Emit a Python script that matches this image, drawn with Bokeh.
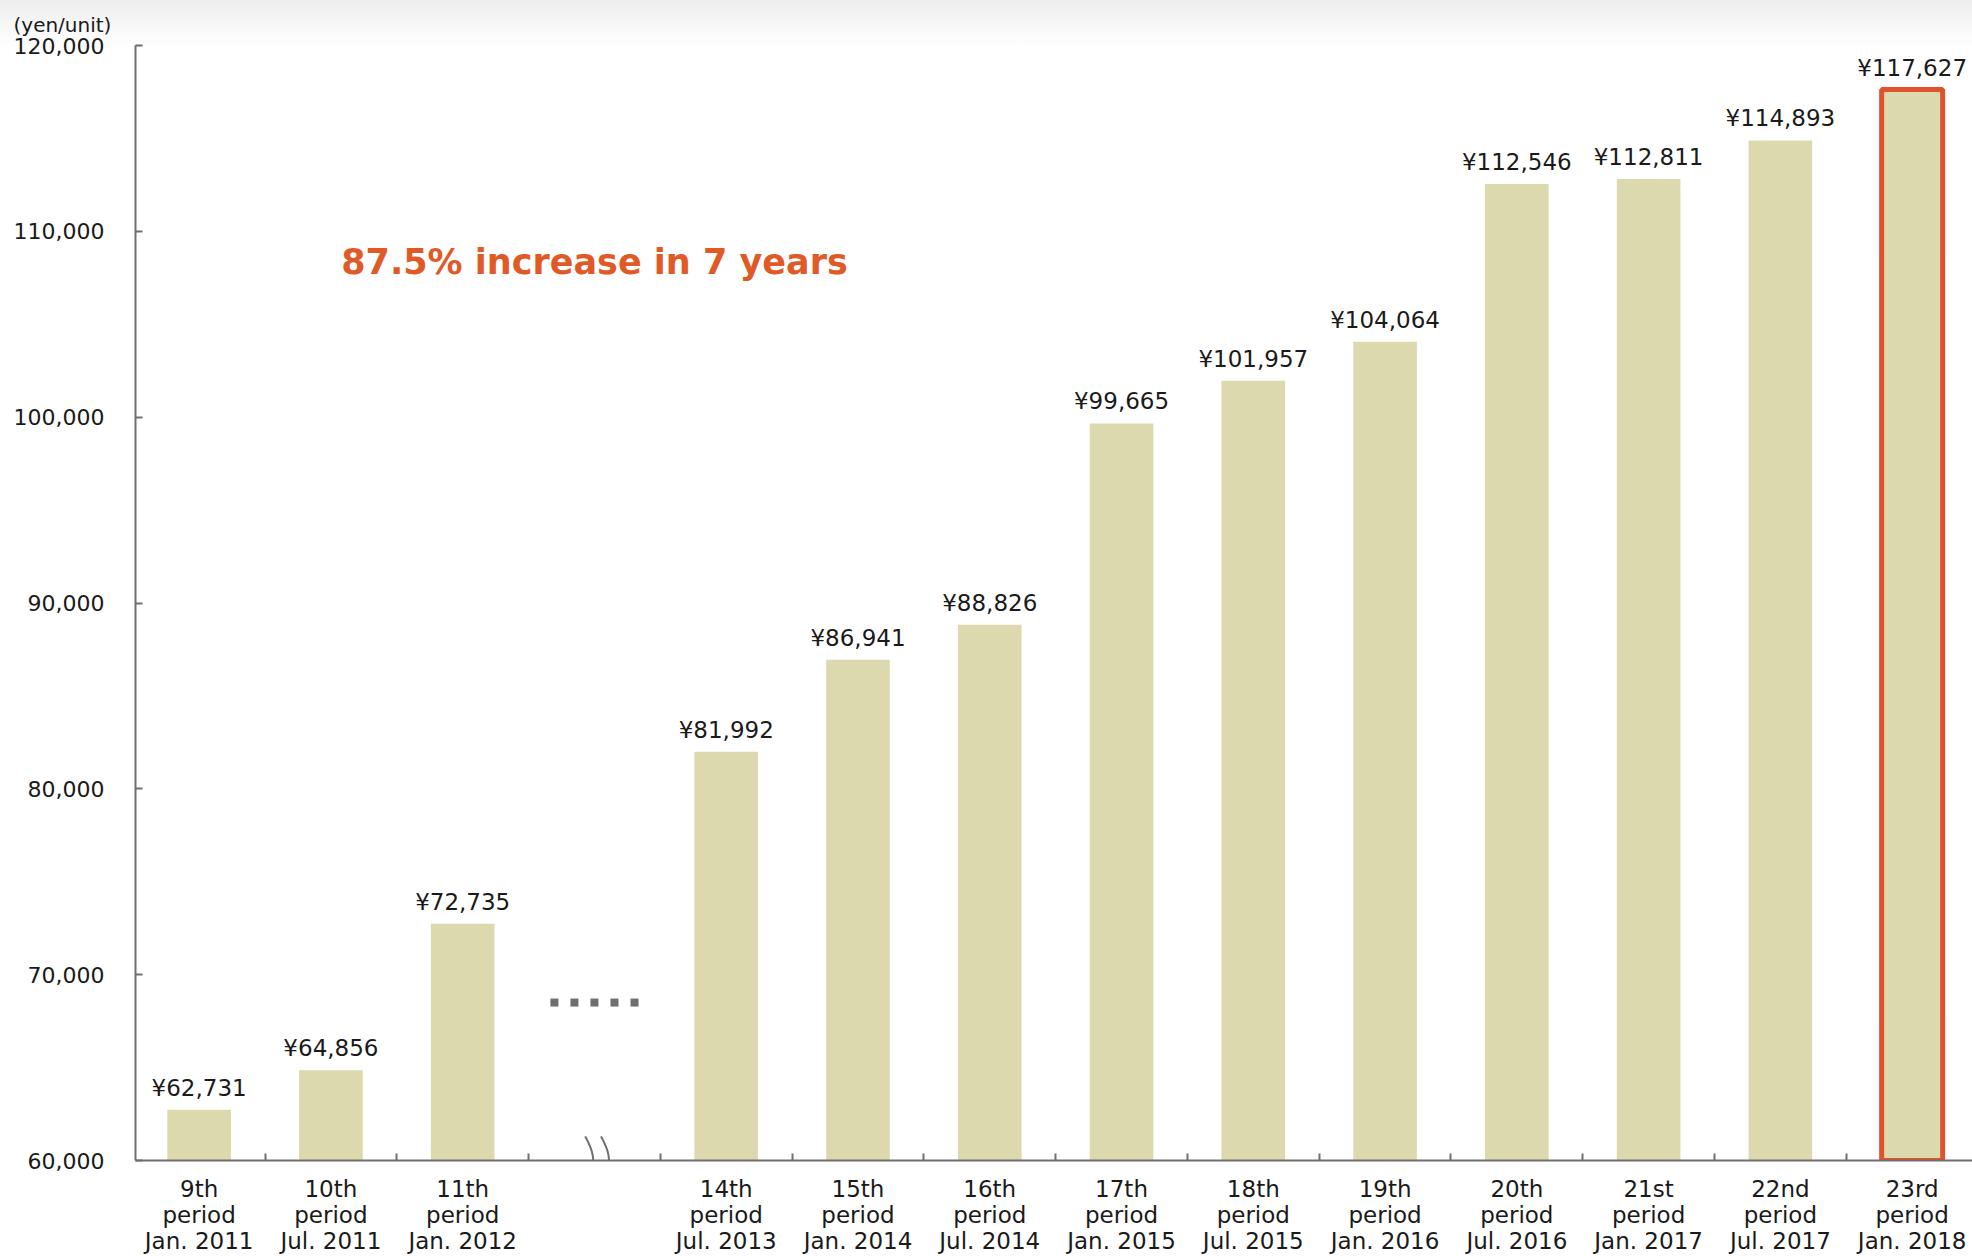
from bokeh.plotting import figure
from bokeh.models import (Range1d, FixedTicker, NumeralTickFormatter, Label,
                          ColumnDataSource)
from bokeh.embed import file_html
from bokeh.resources import INLINE
from bokeh.core.properties import value
import math

# ---------------- data ----------------
period_names = ["9th", "10th", "11th", "14th", "15th", "16th", "17th", "18th",
                "19th", "20th", "21st", "22nd", "23rd"]
period_dates = ["Jan. 2011", "Jul. 2011", "Jan. 2012", "Jul. 2013", "Jan. 2014",
                "Jul. 2014", "Jan. 2015", "Jul. 2015", "Jan. 2016", "Jul. 2016",
                "Jan. 2017", "Jul. 2017", "Jan. 2018"]
prices = [62731, 64856, 72735, 81992, 86941, 88826, 99665, 101957, 104064,
          112546, 112811, 114893, 117627]
y_ticks = [60000, 70000, 80000, 90000, 100000, 110000, 120000]
gap_after = 3            # an omitted-period slot follows the 3rd bar
headline = "87.5% increase in 7 years"
unit_label = "(yen/unit)"

# ---------------- style ----------------
FONT = "DejaVu Sans"
BAR = "#DCD9AE"
RED = "#E0522B"
AXIS = "#6F6F6F"
TXT = "#1A1A1A"

xs = [i + (1 if i >= gap_after else 0) for i in range(len(prices))]
gap_x = gap_after
n_slots = len(prices) + 1

src = ColumnDataSource(dict(
    x=xs, top=prices,
    lab=["\u00a5{:,}".format(v) for v in prices],
))

p = figure(width=1972, height=1256, output_backend="svg", toolbar_location=None,
           x_range=Range1d(-0.483, 13.458), y_range=Range1d(y_ticks[0], y_ticks[-1]),
           min_border_left=135, min_border_right=0, min_border_top=45,
           min_border_bottom=94, title=unit_label)
p.outline_line_color = None
p.grid.visible = False
p.background_fill_color = "white"
p.border_fill_color = None
p.styles = {"background-image": "linear-gradient(to bottom, #EDEDED 0px, #F7F7F7 25px, #FFFFFF 50px)"}

t = p.title
t.align = "left"
t.offset = -122
t.standoff = 18
t.text_font = FONT
t.text_font_size = "20px"
t.text_font_style = "normal"
t.text_color = TXT
t.vertical_align = "bottom"
t.background_fill_color = None

# bars
p.vbar(x="x", top="top", bottom=y_ticks[0], width=0.483, source=src,
       fill_color=BAR, line_color=None)
# highlighted last bar
p.vbar(x=[xs[-1]], top=[prices[-1]], bottom=y_ticks[0], width=0.463,
       fill_color=BAR, line_color=RED, line_width=5)

# value labels
p.text(x="x", y="top", text="lab", source=src, text_align="center",
       text_baseline="alphabetic", y_offset=-22,
       text_font=value(FONT), text_font_size="23px", text_color=TXT)

# omitted-period dots
p.scatter(x=[gap_x + k * 0.152 for k in (-2, -1, 0, 1, 2)], y=[68500] * 5,
          marker="square", size=8, fill_color=AXIS, line_color=None)

# axis-break squiggles (upper half above the axis line)
sq_x, sq_y = [], []
for dx in (-0.07, 0.05):
    px, py = [], []
    for k in range(21):
        f = k / 20.0
        py.append(61300 - f * 2600)
        px.append(gap_x + dx + 0.06 * math.sin(math.pi * f))
    sq_x.append(px)
    sq_y.append(py)
p.multi_line(xs=sq_x, ys=sq_y, line_color=AXIS, line_width=2)

# headline
p.add_layout(Label(x=gap_x, y=108336, text=headline, text_align="center",
                   text_baseline="middle", text_font=FONT,
                   text_font_size="35px", text_font_style="bold",
                   text_color="#E05A28"))

# y axis
ya = p.yaxis[0]
ya.ticker = FixedTicker(ticks=y_ticks, minor_ticks=[])
ya.formatter = NumeralTickFormatter(format="0,0")
ya.major_tick_in = 7
ya.major_tick_out = 0
ya.minor_tick_in = 0
ya.minor_tick_out = 0
ya.axis_line_color = AXIS
ya.axis_line_width = 2
ya.major_tick_line_color = AXIS
ya.major_tick_line_width = 2
ya.major_label_standoff = 31
ya.major_label_text_font = FONT
ya.major_label_text_font_size = "22px"
ya.major_label_text_color = TXT

# x axis
xa = p.xaxis[0]
centers = list(range(n_slots))
bounds = [c + 0.5 for c in centers[:-1]]
xa.ticker = FixedTicker(ticks=centers, minor_ticks=bounds)
overrides = {}
for c in centers:
    overrides[c] = ""
for x, nm, dt in zip(xs, period_names, period_dates):
    overrides[x] = nm + "\nperiod\n" + dt
xa.major_label_overrides = overrides
xa.major_tick_in = 0
xa.major_tick_out = 0
xa.minor_tick_in = 7
xa.minor_tick_out = 0
xa.minor_tick_line_color = AXIS
xa.minor_tick_line_width = 2
xa.axis_line_color = AXIS
xa.axis_line_width = 2
xa.major_label_standoff = 15
xa.major_label_text_font = FONT
xa.major_label_text_font_size = "23px"
xa.major_label_text_color = TXT
xa.major_label_text_line_height = 1.0

open("out.html", "w").write(file_html(p, INLINE))
